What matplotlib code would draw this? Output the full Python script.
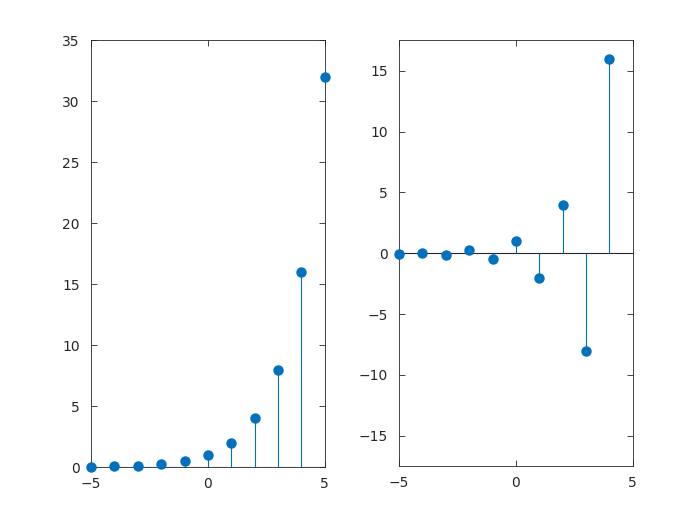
import matplotlib.pyplot as plt

n_left = [-5, -4, -3, -2, -1, 0, 1, 2, 3, 4, 5]
y_left = [0.03125, 0.0625, 0.125, 0.25, 0.5, 1, 2, 4, 8, 16, 32]
n_right = [-5, -4, -3, -2, -1, 0, 1, 2, 3, 4]
y_right = [-0.03125, 0.0625, -0.125, 0.25, -0.5, 1, -2, 4, -8, 16]

blue = '#0072BD'
grey = '#262626'

fig = plt.figure(figsize=(7, 5.25), dpi=100)
ax1 = fig.add_axes([0.13, 0.11, 0.334, 0.813])
ax2 = fig.add_axes([0.57, 0.112, 0.334, 0.811])


def stem(ax, x, y):
    ax.vlines(x, 0, y, color=blue, linewidth=0.8)
    ax.plot(x, y, 'o', color=blue, markersize=6.5, clip_on=False, zorder=3)
    ax.axhline(0, color=grey, linewidth=0.8, zorder=1)
    for s in ax.spines.values():
        s.set_color(grey)
        s.set_linewidth(0.6)
    ax.tick_params(direction='in', colors=grey, labelsize=10, length=4,
                   top=True, right=True, width=0.6)
    ax.tick_params(axis='x', pad=7)
    ax.tick_params(axis='y', pad=8)
    ax.set_xlim(-5, 5)
    ax.set_xticks([-5, 0, 5])


stem(ax1, n_left, y_left)
ax1.set_ylim(0, 35)
ax1.set_yticks(range(0, 36, 5))

stem(ax2, n_right, y_right)
ax2.set_ylim(-17.5, 17.5)
ax2.set_yticks(range(-15, 16, 5))

fig.savefig('out.png')
